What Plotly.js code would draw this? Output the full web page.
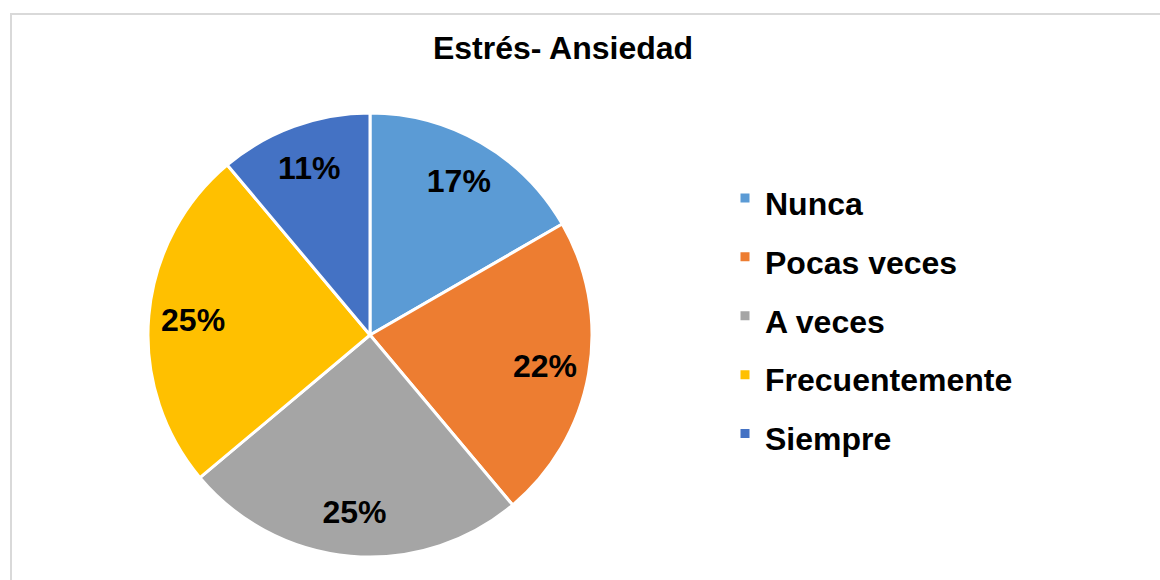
<!DOCTYPE html>
<html>
<head>
<meta charset="utf-8">
<script src="https://cdn.plot.ly/plotly-3.0.1.min.js"></script>
<style>html,body{margin:0;padding:0;background:#fff;}#chart{width:1160px;height:580px;}</style>
</head>
<body>
<div id="chart"></div>
<script>
const chartTitle = "Estrés- Ansiedad";
const categories = ["Nunca", "Pocas veces", "A veces", "Frecuentemente", "Siempre"];
const counts = [6, 8, 9, 9, 4];
const colors = ["#5B9BD5", "#ED7D31", "#A5A5A5", "#FFC000", "#4472C4"];

const W = 1160, H = 580;
const FONT = "Liberation Sans, Arial, sans-serif";
const pieDomain = { x: [148 / W, 592 / W], y: [1 - 557 / H, 1 - 113 / H] };

// Coloured slices + legend
const slices = {
  type: "pie",
  labels: categories.map(c => '<span style="font-size:32px">' + c + '</span>'),
  values: counts,
  sort: false,
  direction: "clockwise",
  rotation: 0,
  marker: { colors: colors, line: { color: "#ffffff", width: 3 } },
  textinfo: "none",
  hoverinfo: "label+percent",
  domain: pieDomain,
  automargin: false
};

// Transparent ring carrying the percentage labels near the outer edge
const labelsRing = {
  type: "pie",
  labels: categories,
  values: counts,
  sort: false,
  direction: "clockwise",
  rotation: 0,
  hole: 0.6,
  showlegend: false,
  marker: { colors: categories.map(() => "rgba(0,0,0,0)"), line: { width: 0 } },
  texttemplate: "%{percent:.0%}",
  textposition: "inside",
  insidetextorientation: "horizontal",
  textfont: { family: FONT, size: 32, color: "#000000", weight: "bold" },
  hoverinfo: "skip",
  domain: pieDomain,
  automargin: false
};

const layout = {
  width: W, height: H,
  margin: { l: 0, r: 0, t: 0, b: 0 },
  paper_bgcolor: "#ffffff",
  title: {
    text: "<b>" + chartTitle + "</b>",
    font: { family: FONT, size: 32, color: "#000000" },
    x: 563 / W, xref: "paper", xanchor: "center",
    y: 1 - 48 / H, yref: "paper", yanchor: "middle"
  },
  showlegend: true,
  legend: {
    x: 725 / W, xanchor: "left",
    y: 1 - 316 / H, yanchor: "middle",
    font: { family: FONT, size: 43, color: "#000000", weight: "bold" },
    bgcolor: "rgba(0,0,0,0)"
  },
  shapes: [{
    type: "rect", xref: "paper", yref: "paper",
    x0: 11 / W, x1: 1.02, y0: -0.05, y1: 1 - 14 / H,
    line: { color: "#D9D9D9", width: 2 }, fillcolor: "rgba(0,0,0,0)", layer: "below"
  }]
};

Plotly.newPlot("chart", [slices, labelsRing], layout, { displayModeBar: false, staticPlot: true });
</script>
</body>
</html>
